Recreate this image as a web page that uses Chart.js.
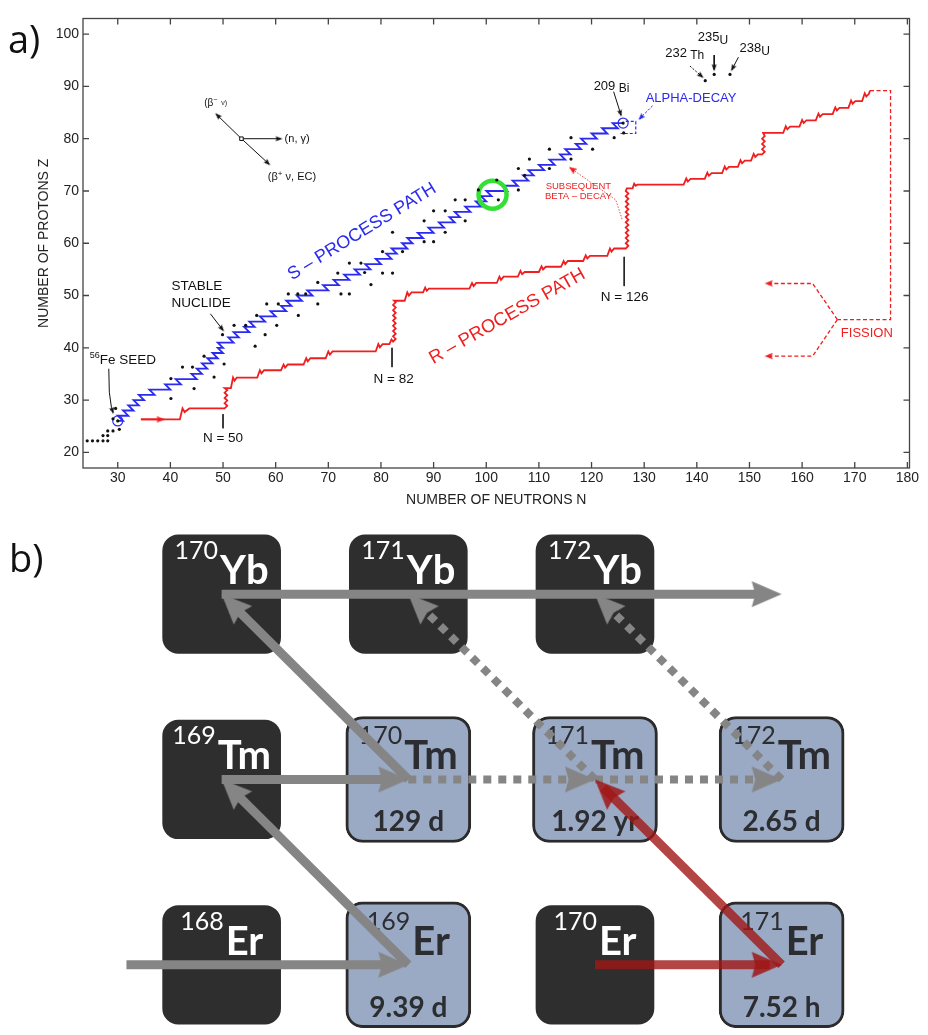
<!DOCTYPE html>
<html>
<head>
<meta charset="utf-8">
<script src="https://cdn.jsdelivr.net/npm/chart.js@4.4.0/dist/chart.umd.min.js"></script>
<style>
  html, body { margin: 0; padding: 0; background: #fff; }
  canvas { display: block; }
</style>
</head>
<body>
<canvas id="pathChart" width="928" height="510"></canvas>
<canvas id="ladderChart" width="928" height="525"></canvas>
<script>
// ---------- panel a: s- and r-process paths in the N-Z plane ----------
const stableNuclides = [
    [24.2, 22.2], [25.2, 22.2], [26.2, 22.2], [27.2, 22.2], [28.1, 22.2],
    [27.2, 23.2], [28.1, 23.2], [28.1, 24.1], [29.1, 24.1], [30.3, 24.4],
    [29.1, 26.4], [29.6, 28.4], [30, 26],
    [40.1, 30.3], [40.1, 34.1], [44.5, 32.2], [42.3, 36.3], [44.2, 36.3], [46.4, 38.4], [48.3, 34.4], [50.2, 36.9],
    [49.9, 42.5], [52.1, 44.3], [54.3, 44.3], [56.1, 40.3], [58, 42.5], [56.4, 46.2], [58.3, 48.4], [60.2, 44.3],
    [60.5, 48.4], [62.4, 50.3], [64.2, 50.3], [65.7, 50.3], [64.3, 46.2], [68, 52.5], [68, 48.4], [71.8, 54.3],
    [74, 56.2], [76.2, 56.2], [72.4, 50.3], [74, 50.3], [78.1, 52.1], [76.9, 54.4],
    [80.3, 58.4], [80.3, 54.3], [82.2, 54.3], [84.1, 58.4], [82.2, 62.1], [88.2, 64.3], [88.2, 60.3], [90, 60.3],
    [90, 66.2], [92.2, 66.2], [92.2, 62.1], [94.1, 68.3], [96, 68.3], [96, 64.3], [98.5, 70.2], [102, 72.1],
    [102.3, 68.3], [106.1, 74.3], [106.1, 70.2], [107.3, 73], [108.2, 76.1], [112, 74.3], [112, 78],
    [116.1, 80.2], [116.1, 76.1], [120.2, 78], [124.3, 80.2], [126.1, 81.1], [126, 83]
]
const heavyNuclides = [[141.6, 91.1], [143.3, 92.3], [146.3, 92.3]]

// s-process: one horizontal (n,gamma) run per element, ending where beta decay takes over
const sStartN = 30
const sStepZ = [26, 27, 28, 29, 30, 31, 32, 33, 34, 35, 36, 37, 38, 39, 40, 41, 42, 43, 44, 45,
    46, 47, 48, 49, 50, 51, 52, 53, 54, 55, 56, 57, 58, 59, 60, 61, 62, 63, 64, 65,
    66, 67, 68, 69, 70, 71, 72, 73, 74, 75, 76, 77, 78, 79, 80, 81, 82, 83]
const sStepEnd = [31, 32, 33, 34, 35, 37, 40, 42, 45, 46, 47, 48, 49, 50, 50, 52, 53, 55, 56, 58,
    60, 62, 63, 65, 67, 70, 72, 74, 76, 78, 80, 82, 83, 85, 86, 88, 90, 92, 94, 95,
    97, 99, 100, 101, 104, 106, 108, 109, 111, 113, 115, 116, 118, 119, 121, 123, 125, 126]
const alphaLoop = [[126.5, 83.3], [128.4, 83.3], [128.4, 81.0], [125.5, 81.0]]

const rPath = [
    [34.4, 26.3], [41.8, 26.3], [42.3, 28.4], [42.7, 27.7], [43.6, 28.4], [50.3, 28.4],
    [50.8, 28.9], [50.3, 29.4], [50.8, 29.9], [50.3, 30.4], [50.8, 30.9], [50.3, 31.4], [50.8, 31.9], [50.3, 32.3],
    [51.5, 32.3], [51.9, 34.3], [52.2, 33.7], [52.6, 34.3], [56.5, 34.3],
    [57.0, 35.7], [57.3, 35.1], [57.8, 35.7], [61.0, 35.7],
    [61.5, 36.8], [61.8, 36.2], [62.3, 36.8], [65.3, 36.8],
    [65.8, 38.0], [66.1, 37.4], [66.6, 38.0], [69.5, 38.0],
    [70.0, 39.3], [70.3, 38.7], [70.8, 39.3], [79.0, 39.3],
    [79.5, 40.7], [79.8, 40.1], [80.3, 40.7], [81.6, 40.7],
    [82.0, 41.6], [82.3, 41.2],
    [82.8, 41.7], [82.3, 42.2], [82.8, 42.7], [82.3, 43.2], [82.8, 43.7], [82.3, 44.2], [82.8, 44.7], [82.3, 45.2],
    [82.8, 45.7], [82.3, 46.2], [82.8, 46.7], [82.3, 47.2], [82.8, 47.7], [82.3, 48.2], [82.8, 48.7], [82.5, 49.0],
    [84.5, 49.0], [85.0, 50.6], [85.3, 50.0], [85.8, 50.6], [88.0, 50.6],
    [88.4, 51.5], [88.7, 50.9], [89.1, 51.3], [96.8, 51.3],
    [97.3, 52.4], [97.6, 51.8], [98.1, 52.4], [102.0, 52.4],
    [102.5, 53.6], [102.8, 53.0], [103.3, 53.6], [106.0, 53.6],
    [106.5, 54.7], [106.8, 54.1], [107.3, 54.5], [110.0, 54.5],
    [110.5, 55.6], [110.8, 55.0], [111.3, 55.5], [114.2, 55.5],
    [114.7, 56.6], [115.0, 56.0], [115.5, 56.6], [118.4, 56.6],
    [118.9, 57.7], [119.2, 57.1], [119.7, 57.6], [123.0, 57.6],
    [123.5, 59.0], [123.8, 58.4], [124.3, 59.0], [126.5, 59.0],
    [127.0, 59.5], [126.5, 60.0], [127.0, 60.5], [126.5, 61.0], [127.0, 61.5], [126.5, 62.0], [127.0, 62.5],
    [126.5, 63.0], [127.0, 63.5], [126.5, 64.0], [127.0, 64.5], [126.5, 65.0], [127.0, 65.5], [126.5, 66.0],
    [127.0, 66.5], [126.5, 67.0], [127.0, 67.5], [126.5, 68.0], [127.0, 68.5], [126.5, 69.0], [127.0, 69.5],
    [126.5, 70.0], [126.7, 70.5],
    [127.8, 70.5], [128.1, 71.4], [128.4, 71.0], [128.7, 71.2], [137.5, 71.2],
    [138.0, 72.4], [138.3, 71.8], [138.8, 72.3], [141.5, 72.3],
    [142.0, 73.5], [142.3, 72.9], [142.8, 73.4], [144.8, 73.4],
    [145.3, 74.7], [145.6, 74.1], [146.1, 74.6], [147.8, 74.6],
    [148.3, 75.9], [148.6, 75.3], [149.1, 75.8], [150.3, 75.8],
    [150.8, 77.1], [151.1, 76.5], [151.6, 77.0], [152.4, 77.0],
    [152.9, 77.5], [152.4, 78.0], [152.9, 78.5], [152.4, 79.0], [152.9, 79.5], [152.4, 80.0], [152.9, 80.5], [152.6, 81.1],
    [156.4, 81.1], [156.9, 82.4], [157.2, 81.8], [157.7, 82.3], [159.5, 82.3],
    [160.0, 83.6], [160.3, 83.0], [160.8, 83.5], [162.6, 83.5],
    [163.1, 84.8], [163.4, 84.2], [163.9, 84.7], [165.8, 84.7],
    [166.3, 86.0], [166.6, 85.4], [167.1, 85.9], [168.8, 85.9],
    [169.3, 87.3], [169.6, 86.7], [170.1, 87.2], [171.4, 87.2],
    [171.9, 88.7], [172.2, 88.1], [172.7, 88.6], [172.9, 89.2]
]
const rEntry = [[34.4, 26.3], [38.9, 26.3]]
const fissionPath = [[172.9, 89.2], [176.8, 89.2], [176.8, 45.4], [166.7, 45.4]]
const fissionUp = [[166.7, 45.4], [162.0, 52.3], [152.9, 52.3]]
const fissionDown = [[166.7, 45.4], [162.0, 38.4], [152.9, 38.4]]
const betaHint = [[125.8, 64.6], [124.6, 68.3], [115.7, 74.6]]

const circled = [[30, 26], [126, 83]]
const highlight = [[101.2, 69.3]]
const magicMarks = [[[50, 27.3], [50, 24.6]], [[82.1, 40.0], [82.1, 36.3]], [[126.2, 57.4], [126.2, 51.8]]]

const keyCentre = [53.5, 80.0]
const keyTips = [[61.3, 80.0], [48.5, 84.9], [59.0, 74.9]]

// ---------- panel b: branching at 170Tm / 171Tm ----------
const isoN = [100, 101, 102, 100, 101, 102, 103, 100, 101, 102, 103]
const isoZ = [70, 70, 70, 69, 69, 69, 69, 68, 68, 68, 68]
const isoMass = [170, 171, 172, 169, 170, 171, 172, 168, 169, 170, 171]
const isoSymbol = ['Yb', 'Yb', 'Yb', 'Tm', 'Tm', 'Tm', 'Tm', 'Er', 'Er', 'Er', 'Er']
const isoHalfLife = ['', '', '', '', '129 d', '1.92 yr', '2.65 d', '', '9.39 d', '', '7.52 h']

const captureSolid = [[[100, 70], [103, 70]], [[100, 69], [101, 69]], [[99.49, 68], [101, 68]]]
const decaySolid = [[[101, 68], [100, 69]], [[101, 69], [100, 70]]]
const branchDotted = [[[101, 69], [102, 69]], [[102, 69], [103, 69]], [[102, 69], [101, 70]], [[103, 69], [102, 70]]]
const newPath = [[[102, 68], [103, 68]], [[103, 68], [102, 69]]]

const familyA = '"Liberation Sans", Arial, sans-serif'
const familyB = 'Lato, "Open Sans", sans-serif'
const blue = '#2b2bf0'
const red = '#f01e1e'

function headImage(color, len, half, notch) {
    const c = document.createElement('canvas')
    const s = Math.ceil(len * 2 + 4)
    c.width = s
    c.height = s
    const g = c.getContext('2d'), m = s / 2
    g.fillStyle = color
    g.beginPath()
    g.moveTo(m, m)
    g.lineTo(m - len, m - half)
    g.lineTo(m - len * notch, m)
    g.lineTo(m - len, m + half)
    g.closePath()
    g.fill()
    return c
}

function headAngle(c) {
    const { x, y } = c.chart.scales
    const from = c.dataset.headFrom, to = c.dataset.data[0]
    return Math.atan2(y.getPixelForValue(to.y) - y.getPixelForValue(from.y),
        x.getPixelForValue(to.x) - x.getPixelForValue(from.x)) * 180 / Math.PI
}

// line + head at the last point; the line stops a little short so the head hides its end
function arrow(points, st) {
    const pts = points.map(p => ({ x: p[0], y: p[1] }))
    const tip = pts[pts.length - 1], from = pts[pts.length - 2]
    const len = Math.hypot((tip.x - from.x) * st.px[0], (tip.y - from.y) * st.px[1])
    const cut = st.trim / len
    const line = pts.slice(0, -1)
    line.push({ x: tip.x - (tip.x - from.x) * cut, y: tip.y - (tip.y - from.y) * cut })
    return [
        { data: line, showLine: true, borderColor: st.color, borderWidth: st.width, borderDash: st.dash || [],
            borderCapStyle: 'butt', pointRadius: 0, order: st.order },
        { data: [tip], headFrom: from, pointStyle: st.head, pointRadius: 1, pointRotation: headAngle, order: st.order - 0.1 }
    ]
}

function line(points, color, width, dash, order) {
    return { data: points.map(p => ({ x: p[0], y: p[1] })), showLine: true, borderColor: color, borderWidth: width,
        borderDash: dash || [], pointRadius: 0, order: order }
}

function drawParts(ctx, x, y, parts, align, color, rot) {
    ctx.save()
    ctx.translate(x, y)
    if (rot) ctx.rotate(rot * Math.PI / 180)
    let total = 0
    parts.forEach(p => { ctx.font = (p[3] || 'normal') + ' ' + p[1] + 'px ' + familyA; total += ctx.measureText(p[0]).width })
    let cx = align === 'center' ? -total / 2 : 0
    ctx.textAlign = 'left'
    ctx.textBaseline = 'middle'
    ctx.fillStyle = color
    parts.forEach(p => {
        ctx.font = (p[3] || 'normal') + ' ' + p[1] + 'px ' + familyA
        ctx.fillText(p[0], cx, p[2])
        cx += ctx.measureText(p[0]).width
    })
    ctx.restore()
}

// text notes of panel a, anchored in N-Z units
const notes = [
    { n: 76.4, z: 62.2, parts: [['S – PROCESS PATH', 18, 0]], align: 'center', color: blue, rot: -31.5 },
    { n: 104.0, z: 46.0, parts: [['R – PROCESS PATH', 18.5, 0]], align: 'center', color: red, rot: -29.5 },
    { n: 40.2, z: 51.8, parts: [['STABLE', 13.5, 0]], color: '#111' },
    { n: 40.2, z: 48.5, parts: [['NUCLIDE', 13.5, 0]], color: '#111' },
    { n: 24.7, z: 37.7, parts: [['56', 9, -4], ['Fe SEED', 13.5, 0]], color: '#111' },
    { n: 50, z: 22.6, parts: [['N = 50', 13.5, 0]], align: 'center', color: '#111' },
    { n: 82.4, z: 34.0, parts: [['N = 82', 13.5, 0]], align: 'center', color: '#111' },
    { n: 126.3, z: 49.7, parts: [['N = 126', 13.5, 0]], align: 'center', color: '#111' },
    { n: 120.4, z: 90.1, parts: [['209', 13, 0], [' Bi', 12, 3]], color: '#111' },
    { n: 138.9, z: 87.8, parts: [['ALPHA-DECAY', 13, 0]], align: 'center', color: blue },
    { n: 134.0, z: 96.4, parts: [['232', 13, 0], [' Th', 12, 3]], color: '#111' },
    { n: 140.2, z: 99.4, parts: [['235', 13, 0], ['U', 12, 3]], color: '#111' },
    { n: 148.1, z: 97.3, parts: [['238', 13, 0], ['U', 12, 3]], color: '#111' },
    { n: 117.5, z: 70.8, parts: [['SUBSEQUENT', 9.5, 0]], align: 'center', color: red },
    { n: 117.5, z: 69.0, parts: [['BETA – DECAY', 9.5, 0]], align: 'center', color: red },
    { n: 172.3, z: 42.8, parts: [['FISSION', 13, 0]], align: 'center', color: red },
    { n: 48.6, z: 86.7, parts: [['(β', 10, 0], ['−', 7, -4], ['  ν)', 7, -1]], align: 'center', color: '#111' },
    { n: 61.7, z: 80.0, parts: [['(n, γ)', 11, 0]], color: '#111' },
    { n: 63.1, z: 72.7, parts: [['(β', 11, 0], ['+', 8, -3], [' ν, EC)', 11, 0]], align: 'center', color: '#111' }
]

const frameNotes = {
    id: 'frameNotes',
    afterDraw(chart) {
        const { ctx, chartArea: a, scales: { x, y } } = chart
        ctx.save()
        ctx.strokeStyle = '#444'
        ctx.lineWidth = 1.3
        ctx.strokeRect(a.left, a.top, a.right - a.left, a.bottom - a.top)
        ctx.beginPath()
        x.ticks.forEach(t => {
            const px = x.getPixelForValue(t.value)
            ctx.moveTo(px, a.bottom); ctx.lineTo(px, a.bottom - 6)
            ctx.moveTo(px, a.top); ctx.lineTo(px, a.top + 6)
        })
        y.ticks.forEach(t => {
            const py = y.getPixelForValue(t.value)
            ctx.moveTo(a.left, py); ctx.lineTo(a.left + 6, py)
            ctx.moveTo(a.right, py); ctx.lineTo(a.right - 6, py)
        })
        ctx.stroke()
        notes.forEach(nt => drawParts(ctx, x.getPixelForValue(nt.n), y.getPixelForValue(nt.z), nt.parts, nt.align, nt.color, nt.rot))
        ctx.fillStyle = '#111'
        ctx.font = '38px "Open Sans", sans-serif'
        ctx.textAlign = 'left'
        ctx.textBaseline = 'alphabetic'
        ctx.fillText('a)', 8, 53)
        ctx.restore()
    }
}

const pxA = [5.307, 5.35]
const headBlack = headImage('#111', 7, 2.6, 0.85)
const headRed = headImage(red, 8, 3.2, 0.85)
const headBlue = headImage(blue, 7, 2.8, 0.85)
const toXY = list => list.map(p => ({ x: p[0], y: p[1] }))

const sPath = [{ x: sStartN, y: sStepZ[0] }]
sStepZ.forEach((z, i) => {
    if (i > 0) sPath.push({ x: sStepEnd[i - 1] - 1, y: z })
    sPath.push({ x: sStepEnd[i], y: z })
})

const blackArrow = { color: '#111', width: 1, head: headBlack, trim: 2, px: pxA, order: 2 }
const aSets = [
    { data: toXY(stableNuclides), pointRadius: 1.6, pointBackgroundColor: '#111', pointBorderWidth: 0, order: 0 },
    { data: toXY(heavyNuclides), pointRadius: 1.6, pointBackgroundColor: '#111', pointBorderWidth: 0, order: 0 },
    { data: toXY(circled), pointRadius: 5, pointBackgroundColor: 'rgba(0,0,0,0)', pointBorderColor: blue, pointBorderWidth: 1.2, order: 1 },
    { data: toXY(highlight), pointRadius: 14, pointBackgroundColor: 'rgba(0,0,0,0)', pointBorderColor: '#33e033', pointBorderWidth: 4.5, order: 0 },
    { data: sPath, showLine: true, borderColor: blue, borderWidth: 1.8, pointRadius: 0, order: 5 },
    line(alphaLoop, blue, 1.2, [3, 2], 5),
    line(rPath, red, 1.8, [], 5),
    line(fissionPath, red, 1.3, [4, 2.5], 5),
    ...arrow(fissionUp, { color: red, width: 1.3, dash: [4, 2.5], head: headRed, trim: 3, px: pxA, order: 4 }),
    ...arrow(fissionDown, { color: red, width: 1.3, dash: [4, 2.5], head: headRed, trim: 3, px: pxA, order: 4 }),
    ...arrow(rEntry, { color: red, width: 1.8, head: headRed, trim: 2, px: pxA, order: 4 }),
    ...arrow(betaHint, { color: red, width: 0.8, dash: [1.5, 1.5], head: headRed, trim: 2, px: pxA, order: 4 }),
    ...magicMarks.map(m => line(m, '#222', 1, [], 3)),
    ...keyTips.flatMap(t => arrow([keyCentre, t], blackArrow)),
    { data: [{ x: keyCentre[0], y: keyCentre[1] }], pointStyle: 'rect', pointRadius: 2.5, pointBackgroundColor: '#fff',
        pointBorderColor: '#111', pointBorderWidth: 1, order: 1 },
    ...arrow([[47.6, 46.5], [50.2, 43.1]], blackArrow),
    ...arrow([[28.3, 36.0], [28.4, 31.5], [28.8, 28.6], [29.2, 27.3]], blackArrow),
    ...arrow([[124.2, 89.0], [125.7, 84.2]], blackArrow),
    ...arrow([[143.3, 96.0], [143.3, 92.9]], blackArrow),
    ...arrow([[147.9, 95.6], [146.5, 92.9]], blackArrow),
    ...arrow([[138.7, 93.9], [141.3, 91.6]], { color: '#111', width: 1, dash: [2, 1.5], head: headBlack, trim: 2, px: pxA, order: 2 }),
    ...arrow([[131.6, 86.3], [128.9, 83.6]], { color: blue, width: 1, dash: [2.5, 1.5], head: headBlue, trim: 2, px: pxA, order: 2 })
]

const tickFont = { family: familyA, size: 14 }
new Chart(document.getElementById('pathChart'), {
    type: 'scatter',
    data: { datasets: aSets },
    options: {
        responsive: false,
        animation: false,
        events: [],
        layout: { padding: { left: 0, top: 8, right: 12, bottom: 0 } },
        plugins: { legend: { display: false }, tooltip: { enabled: false }, colors: { enabled: false } },
        scales: {
            x: {
                type: 'linear', min: 23.4, max: 180.4,
                afterFit: s => { s.height = 42 },
                ticks: { stepSize: 10, includeBounds: false, padding: 2, color: '#222', font: tickFont },
                grid: { display: false, drawTicks: false },
                border: { display: false },
                title: { display: true, text: 'NUMBER OF NEUTRONS N', color: '#222', font: tickFont, padding: { top: 0, bottom: 1.6 } }
            },
            y: {
                type: 'linear', min: 17, max: 103,
                afterFit: s => { s.width = 83 },
                ticks: { stepSize: 10, includeBounds: false, padding: 4, color: '#222', font: tickFont },
                grid: { display: false, drawTicks: false },
                border: { display: false },
                title: { display: true, text: 'NUMBER OF PROTONS Z', color: '#222', font: tickFont, padding: { top: 35.6, bottom: 0 } }
            }
        }
    },
    plugins: [frameNotes]
})

// ---------- panel b chart ----------
const pxB = [188.7, 188.9]
const headGrey = headImage('#858585', 30, 13, 0.88)
const headRedB = headImage('rgba(160,22,22,0.85)', 30, 13, 0.88)

const darkIdx = [], lightIdx = []
isoN.forEach((n, i) => (isoHalfLife[i] ? lightIdx : darkIdx).push(i))

const boxText = {
    id: 'boxText',
    afterDatasetDraw(chart, args) {
        const ds = chart.data.datasets[args.index]
        if (!ds.isoList) return
        const { ctx, scales: { x, y } } = chart
        ctx.save()
        ctx.textBaseline = 'alphabetic'
        ds.isoList.forEach(i => {
            const cx = x.getPixelForValue(isoN[i]), cy = y.getPixelForValue(isoZ[i])
            ctx.fillStyle = isoHalfLife[i] ? '#2b2d31' : '#ffffff'
            ctx.textAlign = 'left'
            ctx.font = '400 25px ' + familyB
            const w1 = ctx.measureText(String(isoMass[i])).width
            ctx.font = '700 40px ' + familyB
            const w2 = ctx.measureText(isoSymbol[i]).width
            const left = cx - (w1 + 2 + w2) / 2
            ctx.font = '400 25px ' + familyB
            ctx.fillText(String(isoMass[i]), left, cy - 35)
            ctx.font = '700 40px ' + familyB
            ctx.fillText(isoSymbol[i], left + w1 + 2, cy - 10)
            if (isoHalfLife[i]) {
                ctx.textAlign = 'center'
                ctx.font = '700 28px ' + familyB
                ctx.fillText(isoHalfLife[i], cx, cy + 52)
            }
        })
        ctx.restore()
    },
    afterDraw(chart) {
        const ctx = chart.ctx
        ctx.save()
        ctx.fillStyle = '#111'
        ctx.font = '38px "Open Sans", sans-serif'
        ctx.textAlign = 'left'
        ctx.textBaseline = 'alphabetic'
        ctx.fillText('b)', 9, 62)
        ctx.restore()
    }
}

const greySolid = { color: '#858585', width: 9, head: headGrey, trim: 12, px: pxB, order: 3 }
const greyDotted = { color: '#858585', width: 8, dash: [8, 7], head: headGrey, trim: 12, px: pxB, order: 3 }
const redSolid = { color: 'rgba(160,22,22,0.8)', width: 9, head: headRedB, trim: 12, px: pxB, order: 1 }

new Chart(document.getElementById('ladderChart'), {
    type: 'scatter',
    data: {
        datasets: [
            { type: 'bar', data: darkIdx.map(i => ({ x: isoN[i], y: [isoZ[i] - 0.32, isoZ[i] + 0.32] })), isoList: darkIdx,
                backgroundColor: '#2e2e2e', borderWidth: 0, borderRadius: 16, borderSkipped: false, grouped: false,
                barThickness: 118, maxBarThickness: 118, order: 10 },
            { type: 'bar', data: lightIdx.map(i => ({ x: isoN[i], y: [isoZ[i] - 0.34, isoZ[i] + 0.34] })), isoList: lightIdx,
                backgroundColor: '#9aaac4', borderColor: '#2b2b2b', borderWidth: 3, borderRadius: 17, borderSkipped: false, grouped: false,
                barThickness: 125, maxBarThickness: 125, order: 9 },
            ...captureSolid.flatMap(a => arrow(a, greySolid)),
            ...decaySolid.flatMap(a => arrow(a, greySolid)),
            ...branchDotted.flatMap(a => arrow(a, greyDotted)),
            ...newPath.flatMap(a => arrow(a, redSolid))
        ]
    },
    options: {
        responsive: false,
        animation: false,
        events: [],
        layout: { padding: 0 },
        plugins: { legend: { display: false }, tooltip: { enabled: false }, colors: { enabled: false } },
        scales: {
            x: { type: 'linear', display: false, offset: false, min: 98.8394, max: 103.7573 },
            y: { type: 'linear', display: false, min: 67.6479, max: 70.4272 }
        }
    },
    plugins: [boxText]
})
</script>
</body>
</html>
